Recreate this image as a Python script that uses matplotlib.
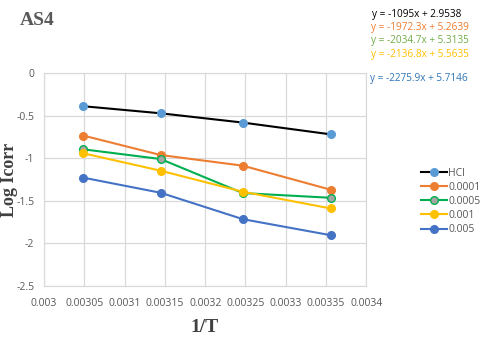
import matplotlib
matplotlib.use("Agg")
import matplotlib.pyplot as plt
from matplotlib.ticker import FixedLocator, FuncFormatter

# data
inv_T = [1/328, 1/318, 1/308, 1/298]
series = ["HCl", "0.0001", "0.0005", "0.001", "0.005"]
hcl = [-0.39, -0.473, -0.582, -0.72]
c0001 = [-0.735, -0.963, -1.088, -1.37]
c0005 = [-0.896, -1.01, -1.41, -1.465]
c001 = [-0.943, -1.147, -1.394, -1.59]
c005 = [-1.229, -1.406, -1.716, -1.904]
equations = ["y = -1095x + 2.9538", "y = -1972.3x + 5.2639", "y = -2034.7x + 5.3135",
             "y = -2136.8x + 5.5635", "y = -2275.9x + 5.7146"]
x_ticks = [0.003, 0.00305, 0.0031, 0.00315, 0.0032, 0.00325, 0.0033, 0.00335, 0.0034]
y_ticks = [0, -0.5, -1, -1.5, -2, -2.5]

values = [hcl, c0001, c0005, c001, c005]
line_colors = ["#000000", "#ED7D31", "#00B050", "#FFC000", "#4472C4"]
marker_colors = ["#5B9BD5", "#ED7D31", "#A5A5A5", "#FFC000", "#4472C4"]
edge_colors = ["#5B9BD5", "#ED7D31", "#00B050", "#FFC000", "#4472C4"]
eq_colors = ["#000000", "#ED7D31", "#70AD47", "#FFC000", "#2E75B6"]

fig = plt.figure(figsize=(4.8, 3.38), dpi=100)
ax = fig.add_axes([0.092, 0.154, 0.671, 0.63])

for vals, name, lc, mc, ec in zip(values, series, line_colors, marker_colors, edge_colors):
    ax.plot(inv_T, vals, color=lc, lw=1.5, marker="o", markersize=5.5,
            markerfacecolor=mc, markeredgecolor=ec, markeredgewidth=1, label=name)

ax.set_xlim(0.003, 0.0034)
ax.set_ylim(-2.5, 0)
ax.xaxis.set_major_locator(FixedLocator(x_ticks))
ax.yaxis.set_major_locator(FixedLocator(y_ticks))
ax.xaxis.set_major_formatter(FuncFormatter(lambda v, p: f"{v:.5f}".rstrip("0")))
ax.yaxis.set_major_formatter(FuncFormatter(lambda v, p: f"{v:g}"))
ax.grid(True, color="#D9D9D9", lw=0.9)
ax.set_axisbelow(True)
for s in ax.spines.values():
    s.set_color("#D9D9D9")
ax.tick_params(length=0, labelsize=7.5, colors="#595959")
ax.tick_params(axis="x", pad=9)
ax.tick_params(axis="y", pad=7)
for lab in ax.get_xticklabels() + ax.get_yticklabels():
    lab.set_fontfamily("Open Sans")

fig.text(0.042, 0.94, "AS4", fontsize=14, fontweight="bold", color="#595959",
         family="Liberation Serif", va="center")
fig.text(0.02, 0.468, "Log Icorr", fontsize=13, fontweight="bold", color="#404040",
         family="Liberation Serif", rotation=90, va="center", ha="center")
fig.text(0.427, 0.03, "1/T", fontsize=14, fontweight="bold", color="#404040",
         family="Liberation Serif", ha="center", va="center")

eq_y = [0.958, 0.92, 0.879, 0.84, 0.769]
eq_x = [0.775, 0.772, 0.772, 0.772, 0.77]
for t, c, xx, yy in zip(equations, eq_colors, eq_x, eq_y):
    fig.text(xx, yy, t, fontsize=7.2, color=c, family="Open Sans", va="center")

leg = ax.legend(loc="center left", bbox_to_anchor=(0.866, 0.404), bbox_transform=fig.transFigure,
                frameon=False, fontsize=7.5, handlelength=2.5, handletextpad=0.15,
                labelspacing=0.3, borderpad=0)
for t in leg.get_texts():
    t.set_color("#595959")
    t.set_fontfamily("Open Sans")

fig.savefig("out.png", dpi=100)
